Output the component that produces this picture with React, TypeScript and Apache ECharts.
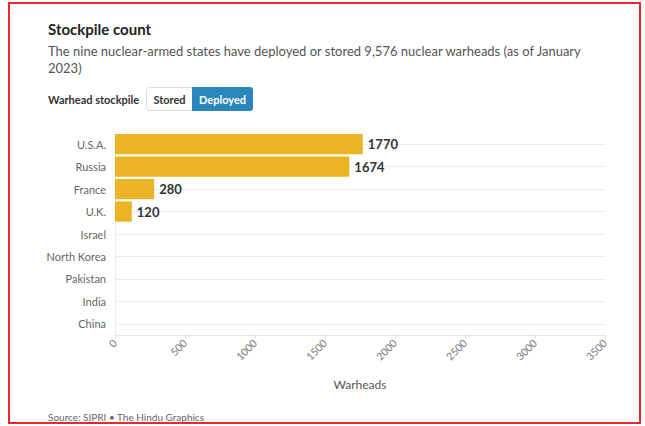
import React, { useEffect, useRef } from "react";
import * as echarts from "echarts";

const categories = ["U.S.A.", "Russia", "France", "U.K.", "Israel", "North Korea", "Pakistan", "India", "China"];
const deployed = [1770, 1674, 280, 120, 0, 0, 0, 0, 0];
const xTicks = { min: 0, max: 3500, interval: 500 };
const title = "Stockpile count";
const subtitle1 = "The nine nuclear-armed states have deployed or stored 9,576 nuclear warheads (as of January";
const subtitle2 = "2023)";
const toggleLabel = "Warhead stockpile";
const toggleOptions = ["Stored", "Deployed"];
const axisName = "Warheads";
const source = "Source: SIPRI • The Hindu Graphics";

const FONT = "Lato, 'Noto Sans', sans-serif";

export default function App() {
  const ref = useRef<HTMLDivElement>(null);
  useEffect(() => {
    const chart = echarts.init(ref.current!, null, { renderer: "svg" });
    chart.setOption({
      animation: false,
      backgroundColor: "#ffffff",
      textStyle: { fontFamily: FONT },
      grid: { left: 115, right: 40, top: 133, bottom: 91, containLabel: false },
      xAxis: {
        type: "value",
        min: xTicks.min,
        max: xTicks.max,
        interval: xTicks.interval,
        name: axisName,
        nameLocation: "middle",
        nameGap: 43,
        nameTextStyle: { color: "#555", fontSize: 12, fontFamily: FONT },
        axisLine: { show: true, lineStyle: { color: "#e6e6e6" } },
        axisTick: { show: true, length: 4, lineStyle: { color: "#e0e0e0" } },
        axisLabel: { rotate: 45, color: "#777", fontSize: 10.5, margin: 6, fontFamily: FONT, formatter: (v: number) => String(v) },
        splitLine: { show: false },
      },
      yAxis: {
        type: "category",
        inverse: true,
        data: categories,
        axisLine: { show: true, lineStyle: { color: "#ececec" } },
        axisTick: { show: false },
        axisLabel: { color: "#666", fontSize: 11, margin: 9, fontFamily: FONT },
        splitLine: { show: false },
      },
      series: [
        {
          type: "line",
          data: [],
          z: 1,
          silent: true,
          markLine: {
            silent: true,
            z: 1,
            symbol: "none",
            label: { show: false },
            lineStyle: { color: "#ececec", type: "solid", width: 1 },
            data: categories.map((c) => ({ yAxis: c })),
          },
        },
        {
          type: "bar",
          data: deployed,
          z: 3,
          barCategoryGap: "10%",
          itemStyle: { color: "#ebb424" },
          label: {
            show: true,
            position: "right",
            distance: 5,
            color: "#333",
            fontWeight: "bold",
            fontSize: 13,
            fontFamily: FONT,
            formatter: (p: any) => (p.value ? String(p.value) : ""),
          },
        },
      ],
      graphic: [
        { type: "rect", shape: { x: 9, y: 3, width: 631, height: 420 }, style: { fill: "none", stroke: "#e8282b", lineWidth: 2 }, silent: true },
        { type: "text", x: 48, y: 29, style: { text: title, font: `bold 15px ${FONT}`, fill: "#222", textVerticalAlign: "middle" } },
        { type: "text", x: 48, y: 51, style: { text: subtitle1, font: `13px ${FONT}`, fill: "#555", textVerticalAlign: "middle" } },
        { type: "text", x: 48, y: 68, style: { text: subtitle2, font: `13px ${FONT}`, fill: "#555", textVerticalAlign: "middle" } },
        { type: "text", x: 48, y: 99, style: { text: toggleLabel, font: `bold 11px ${FONT}`, fill: "#333", textVerticalAlign: "middle" } },
        { type: "rect", shape: { x: 146.5, y: 87.5, width: 46, height: 23, r: [3, 0, 0, 3] }, style: { fill: "#fff", stroke: "#dddddd", lineWidth: 1 } },
        { type: "rect", shape: { x: 192, y: 87, width: 61, height: 24, r: [0, 3, 3, 0] }, style: { fill: "#2a86bb" } },
        { type: "text", x: 169.5, y: 99, style: { text: toggleOptions[0], font: `bold 11px ${FONT}`, fill: "#333", textAlign: "center", textVerticalAlign: "middle" } },
        { type: "text", x: 222.5, y: 99, style: { text: toggleOptions[1], font: `bold 11px ${FONT}`, fill: "#fff", textAlign: "center", textVerticalAlign: "middle" } },
        { type: "text", x: 48, y: 417, style: { text: source, font: `10px ${FONT}`, fill: "#666", textVerticalAlign: "middle" } },
      ],
    });
    return () => chart.dispose();
  }, []);
  return <div ref={ref} style={{ position: "fixed", left: 0, top: 0, width: 645, height: 426 }} />;
}
